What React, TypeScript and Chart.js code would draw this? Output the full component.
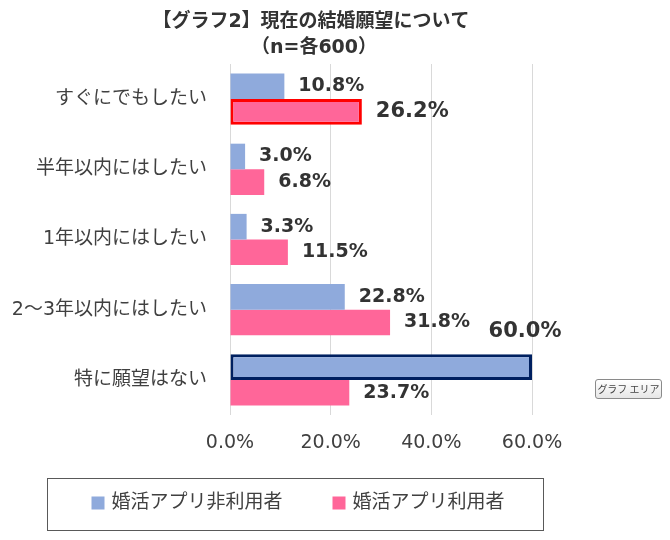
import React, { useEffect, useRef } from 'react';
import { Chart, registerables } from 'chart.js';

Chart.register(...registerables);

const TITLE_LINES = ['【グラフ2】現在の結婚願望について', '（n=各600）'];
const CATEGORIES = ['すぐにでもしたい', '半年以内にはしたい', '1年以内にはしたい', '2～3年以内にはしたい', '特に願望はない'];
const SERIES_NAMES = ['婚活アプリ非利用者', '婚活アプリ利用者'];
const NON_USERS = [10.8, 3.0, 3.3, 22.8, 60.0];
const USERS = [26.2, 6.8, 11.5, 31.8, 23.7];
const X_TICKS = [0, 20, 40, 60];
const TOOLTIP_TEXT = 'グラフ エリア';

const FONT = '"DejaVu Sans", "Noto Sans CJK JP", sans-serif';
const BLUE = '#8FAADC';
const PINK = '#FF6699';

const titlePlugin = {
  id: 'customTitle',
  afterDraw(chart: any) {
    const { ctx } = chart;
    ctx.save();
    ctx.font = `bold 19px ${FONT}`;
    ctx.fillStyle = '#333333';
    ctx.textAlign = 'center';
    ctx.textBaseline = 'middle';
    ctx.fillText(TITLE_LINES[0], 311, 22);
    ctx.fillText(TITLE_LINES[1], 314, 48);
    ctx.restore();
  },
};

const labelPlugin = {
  id: 'valueLabels',
  afterDatasetsDraw(chart: any) {
    const { ctx, chartArea } = chart;
    chart.data.datasets.forEach((ds: any, di: number) => {
      const meta = chart.getDatasetMeta(di);
      meta.data.forEach((el: any, i: number) => {
        const v = ds.data[i] as number;
        const bw = Array.isArray(ds.borderWidth) ? ds.borderWidth[i] : 0;
        const size = bw > 0 ? 21 : 19;
        const text = v.toFixed(1) + '%';
        ctx.save();
        ctx.font = `bold ${size}px ${FONT}`;
        ctx.fillStyle = '#333333';
        ctx.textBaseline = 'middle';
        const w = ctx.measureText(text).width;
        let x = el.x + 14;
        let y = el.y;
        if (x + w > chartArea.right) {
          ctx.textAlign = 'center';
          x = el.x - 7;
          y = el.y - el.height / 2 - 23;
        } else {
          ctx.textAlign = 'left';
        }
        ctx.fillText(text, x, y);
        ctx.restore();
      });
    });
  },
};

const legendPlugin = {
  id: 'boxLegend',
  afterDraw(chart: any) {
    const { ctx } = chart;
    const boxX = 47, boxY = 478, boxW = 496, boxH = 52;
    ctx.save();
    ctx.strokeStyle = '#595959';
    ctx.lineWidth = 1;
    ctx.strokeRect(boxX + 0.5, boxY + 0.5, boxW, boxH);
    ctx.font = `19px ${FONT}`;
    ctx.textBaseline = 'middle';
    ctx.textAlign = 'left';
    const sq = 13, gap = 7, spacing = 50;
    const items = chart.data.datasets.map((ds: any) => ({
      label: ds.label as string,
      color: ds.backgroundColor as string,
      w: ctx.measureText(ds.label).width,
    }));
    const total = items.reduce((s: number, it: any) => s + sq + gap + it.w, 0) + spacing * (items.length - 1);
    let x = boxX + boxW / 2 + 3 - total / 2;
    const cy = boxY + 25;
    items.forEach((it: any) => {
      ctx.fillStyle = it.color;
      ctx.fillRect(x, cy - sq / 2, sq, sq);
      x += sq + gap;
      ctx.fillStyle = '#404040';
      ctx.fillText(it.label, x, cy);
      x += it.w + spacing;
    });
    ctx.restore();
  },
};

export default function App() {
  const canvasRef = useRef<HTMLCanvasElement | null>(null);

  useEffect(() => {
    if (!canvasRef.current) return;
    const chart = new Chart(canvasRef.current, {
      type: 'bar',
      data: {
        labels: CATEGORIES,
        datasets: [
          {
            label: SERIES_NAMES[0],
            data: NON_USERS,
            backgroundColor: BLUE,
            borderColor: '#002060',
            borderWidth: NON_USERS.map((_, i) => (i === 4 ? 3 : 0)),
            borderSkipped: false,
            categoryPercentage: 0.73,
            barPercentage: 1.0,
          },
          {
            label: SERIES_NAMES[1],
            data: USERS,
            backgroundColor: PINK,
            borderColor: '#FF0000',
            borderWidth: USERS.map((_, i) => (i === 0 ? 3 : 0)),
            borderSkipped: false,
            categoryPercentage: 0.73,
            barPercentage: 1.0,
          },
        ],
      },
      options: {
        indexAxis: 'y',
        responsive: false,
        animation: false,
        layout: { padding: { top: 64, right: 138, bottom: 70, left: 0 } },
        plugins: {
          legend: { display: false },
          title: { display: false },
          tooltip: { enabled: false },
        },
        scales: {
          x: {
            min: X_TICKS[0],
            max: X_TICKS[X_TICKS.length - 1],
            afterBuildTicks: (scale: any) => {
              scale.ticks = X_TICKS.map((v) => ({ value: v }));
            },
            afterFit: (scale: any) => {
              scale.height = 55;
            },
            grid: { color: '#D9D9D9', lineWidth: 1, drawTicks: false },
            border: { display: false },
            ticks: {
              padding: 17,
              color: '#404040',
              font: { family: FONT, size: 19 },
              callback: (v: any) => Number(v).toFixed(1) + '%',
            },
          },
          y: {
            afterFit: (scale: any) => {
              scale.width = 230;
            },
            grid: { display: false, drawTicks: false },
            border: { display: false },
            ticks: {
              padding: 23,
              color: '#404040',
              font: { family: FONT, size: 19 },
            },
          },
        },
      },
      plugins: [titlePlugin, labelPlugin, legendPlugin],
    } as any);
    return () => chart.destroy();
  }, []);

  return (
    <div style={{ position: 'absolute', left: 0, top: 0, width: 670, height: 540, background: '#ffffff' }}>
      <canvas ref={canvasRef} width={670} height={540} style={{ display: 'block', width: 670, height: 540 }} />
      <div
        style={{
          position: 'absolute',
          left: 595,
          top: 379,
          width: 67,
          height: 20,
          boxSizing: 'border-box',
          border: '1px solid #8a8a8a',
          borderRadius: 3,
          background: 'linear-gradient(#ffffff, #e6e6e6)',
          font: '10px "Noto Sans CJK JP", sans-serif',
          color: '#444444',
          textAlign: 'center',
          lineHeight: '18px',
          whiteSpace: 'nowrap',
          overflow: 'hidden',
        }}
      >
        {TOOLTIP_TEXT}
      </div>
    </div>
  );
}
